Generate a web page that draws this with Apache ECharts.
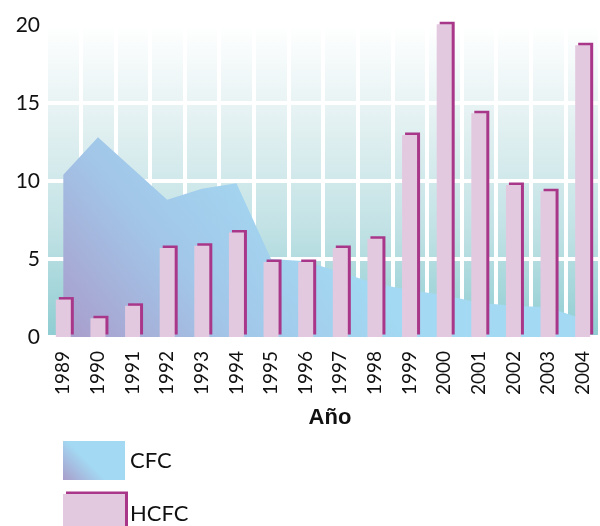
<!DOCTYPE html>
<html>
<head>
<meta charset="utf-8">
<script src="https://cdn.jsdelivr.net/npm/echarts@6/dist/echarts.min.js"></script>
<style>
    html, body { margin: 0; padding: 0; background: #fff; }
    #chart { width: 600px; height: 526px; }
</style>
</head>
<body>
<div id="chart"></div>
<script>
// 年份
var years = ['1989', '1990', '1991', '1992', '1993', '1994', '1995', '1996',
    '1997', '1998', '1999', '2000', '2001', '2002', '2003', '2004'];
// CFC 面积
var cfcValues = [10.4, 12.8, 10.8, 8.8, 9.5, 9.85, 5.0, 4.85, 4.15, 3.45, 3.0, 2.7, 2.2, 2.0, 1.9, 1.15];
// HCFC 柱
var hcfcValues = [2.4, 1.2, 2.0, 5.7, 5.85, 6.7, 4.8, 4.8, 5.7, 6.3, 12.95, 20.05, 14.35, 9.75, 9.35, 18.7];
// y轴刻度
var yTicks = [0, 5, 10, 15, 20];

var FONT = 'Lato';
var PINK = '#e3c9df';
var MAGENTA = '#a8378a';

var chart = echarts.init(document.getElementById('chart'));

//渐变
var areaGrad = new echarts.graphic.LinearGradient(0, 1, 0.4, 0.15, [
    {offset: 0, color: '#a99ccb'},
    {offset: 0.5, color: '#a2c6e8'},
    {offset: 1, color: '#a3d9f2'}
]);
var legendGrad = new echarts.graphic.LinearGradient(0, 1, 0.35, 0.45, [
    {offset: 0, color: '#a89dcb'},
    {offset: 1, color: '#a3d9f2'}
]);
var bgGrad = new echarts.graphic.LinearGradient(0, 0, 0, 1, [
    {offset: 0, color: '#ffffff'},
    {offset: 0.3, color: '#e4f1f2'},
    {offset: 0.65, color: '#c2e2e5'},
    {offset: 1, color: '#8ecdd2'}
]);

var barStyle = {
    color: PINK,
    shadowColor: MAGENTA,
    shadowBlur: 0,
    shadowOffsetX: 3,
    shadowOffsetY: -2.5
};

//图例
function legendAt(top, item) {
    return {
        orient: 'vertical',
        left: 63,
        top: top,
        padding: 0,
        itemWidth: 62,
        itemHeight: 39,
        selectedMode: false,
        textStyle: {fontFamily: FONT, fontSize: 22, color: '#111'},
        data: [item]
    };
}

chart.setOption({
    animation: false,
    grid: {
        left: 46,
        right: -8,
        top: 25,
        bottom: 189,
        show: true,
        borderWidth: 0,
        backgroundColor: bgGrad
    },
    legend: [
        legendAt(441, {name: 'CFC', icon: 'rect', itemStyle: {color: legendGrad}}),
        legendAt(494, {name: 'HCFC', icon: 'rect', itemStyle: barStyle})
    ],
    xAxis: {
        type: 'category',
        data: years,
        name: 'Año',
        nameLocation: 'middle',
        nameGap: 70,
        nameTextStyle: {
            fontFamily: 'Liberation Sans',
            fontWeight: 'bold',
            fontSize: 22,
            color: '#111',
            padding: [0, 0, 0, 14]
        },
        axisLine: {show: false},
        axisTick: {show: false},
        splitLine: {show: true, interval: 0, lineStyle: {color: '#fff', width: 4}},
        axisLabel: {
            interval: 0,
            rotate: 90,
            margin: 14,
            fontFamily: FONT,
            fontSize: 19,
            color: '#111'
        }
    },
    yAxis: {
        type: 'value',
        min: yTicks[0],
        max: yTicks[yTicks.length - 1],
        interval: 5,
        axisLine: {show: false},
        axisTick: {show: false},
        splitLine: {lineStyle: {color: '#fff', width: 4}},
        axisLabel: {margin: 6, fontFamily: FONT, fontSize: 21, color: '#111'}
    },
    series: [
        {
            name: 'CFC',
            type: 'line',
            z: 2,
            data: cfcValues,
            showSymbol: false,
            symbol: 'none',
            lineStyle: {width: 0},
            itemStyle: {color: '#a3d9f2'},
            areaStyle: {color: areaGrad, opacity: 1}
        },
        {
            name: 'HCFC',
            type: 'bar',
            z: 3,
            data: hcfcValues,
            barWidth: 15,
            clip: false,
            itemStyle: barStyle
        }
    ]
});
</script>
</body>
</html>
